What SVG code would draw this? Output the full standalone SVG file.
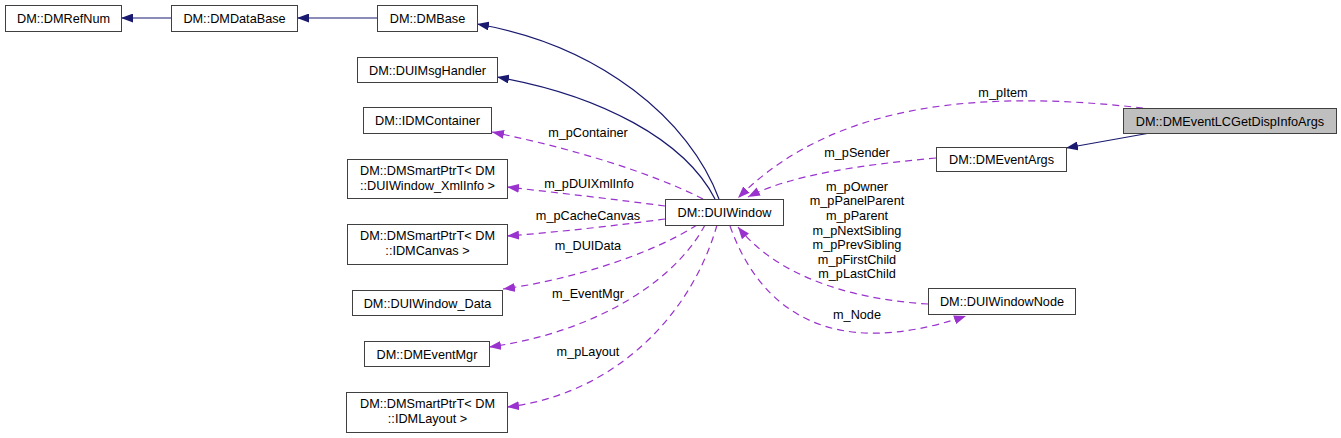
<svg xmlns="http://www.w3.org/2000/svg" width="1341" height="438" viewBox="0 0 1341 438">
<style>
.n rect{fill:#ffffff;stroke:#404040;stroke-width:1}
.n.f rect{fill:#bfbfbf}
text{font-family:"Liberation Sans",Arial,sans-serif;font-size:12.7px;fill:#000}
.t{text-anchor:middle}
.inh{fill:none;stroke:#191970;stroke-width:1.2;marker-end:url(#an)}
.agg{fill:none;stroke:#9a32cd;stroke-width:1.2;stroke-dasharray:7,5;marker-end:url(#ap)}
</style>
<defs>
<marker id="an" markerUnits="userSpaceOnUse" markerWidth="12" markerHeight="9" refX="12" refY="4.5" orient="auto"><path d="M0,0 L12,4.5 L0,9 z" fill="#191970"/></marker>
<marker id="ap" markerUnits="userSpaceOnUse" markerWidth="12" markerHeight="9" refX="12" refY="4.5" orient="auto"><path d="M0,0 L12,4.5 L0,9 z" fill="#9a32cd"/></marker>
</defs>
<rect width="1341" height="438" fill="#ffffff"/>
<g id="connectors">
<path class="inh" d="M171,18 L121,18"/>
<path class="inh" d="M377,18 L297,18"/>
<path class="inh" d="M719,199 C690,120 600,45 477,24"/>
<path class="inh" d="M715,199 C685,140 600,95 497,77"/>
<path class="inh" d="M1150,133 L1066,148"/>
<path class="agg" d="M703,199 C650,172 570,148 492,132"/>
<path class="agg" d="M665,206 C620,200 560,193 507,187"/>
<path class="agg" d="M665,219 C620,225 560,232 507,236"/>
<path class="agg" d="M697,225 C650,255 570,280 503,289"/>
<path class="agg" d="M705,225 C670,290 580,335 489,347"/>
<path class="agg" d="M717,225 C690,320 610,395 507,407"/>
<path class="agg" d="M1143,108 C1000,92 840,95 738,198"/>
<path class="agg" d="M936,158 C860,165 790,175 748,197"/>
<path class="agg" d="M928,304 C860,300 780,280 738,227"/>
<path class="agg" d="M730,226 C760,310 830,362 966,316"/>
<text class="t" x="1003" y="97">m_pItem</text>
<text class="t" x="857" y="157">m_pSender</text>
<text class="t" x="588" y="137">m_pContainer</text>
<text class="t" x="589" y="188">m_pDUIXmlInfo</text>
<text class="t" x="588" y="220">m_pCacheCanvas</text>
<text class="t" x="588" y="250">m_DUIData</text>
<text class="t" x="588" y="298">m_EventMgr</text>
<text class="t" x="588" y="356">m_pLayout</text>
<text class="t" x="857" y="191">m_pOwner</text>
<text class="t" x="857" y="205">m_pPanelParent</text>
<text class="t" x="857" y="220">m_pParent</text>
<text class="t" x="857" y="235">m_pNextSibling</text>
<text class="t" x="857" y="249">m_pPrevSibling</text>
<text class="t" x="857" y="264">m_pFirstChild</text>
<text class="t" x="857" y="278">m_pLastChild</text>
<text class="t" x="857" y="319">m_Node</text>
</g>
<g id="DMRefNum" class="n"><rect x="5.5" y="5.5" width="116" height="26"/><text class="t" x="63.5" y="23">DM::DMRefNum</text></g>
<g id="DMDataBase" class="n"><rect x="171.5" y="5.5" width="126" height="26"/><text class="t" x="234.5" y="23">DM::DMDataBase</text></g>
<g id="DMBase" class="n"><rect x="377.5" y="5.5" width="100" height="26"/><text class="t" x="427.5" y="23">DM::DMBase</text></g>
<g id="DUIMsgHandler" class="n"><rect x="357.5" y="57.5" width="140" height="25"/><text class="t" x="427.5" y="74.5">DM::DUIMsgHandler</text></g>
<g id="IDMContainer" class="n"><rect x="363.5" y="107.5" width="128" height="26"/><text class="t" x="427.5" y="125">DM::IDMContainer</text></g>
<g id="SmartPtrXmlInfo" class="n"><rect x="347.5" y="159.5" width="160" height="39"/><text class="t" x="427.5" y="174.5">DM::DMSmartPtrT&lt; DM</text><text class="t" x="427.5" y="189.5">::DUIWindow_XmlInfo &gt;</text></g>
<g id="SmartPtrCanvas" class="n"><rect x="347.5" y="224.5" width="160" height="40"/><text class="t" x="427.5" y="239.5">DM::DMSmartPtrT&lt; DM</text><text class="t" x="427.5" y="254.5">::IDMCanvas &gt;</text></g>
<g id="DUIWindow_Data" class="n"><rect x="352.5" y="290.5" width="150" height="25"/><text class="t" x="427.5" y="307.5">DM::DUIWindow_Data</text></g>
<g id="DMEventMgr" class="n"><rect x="364.5" y="341.5" width="125" height="25"/><text class="t" x="427" y="358.5">DM::DMEventMgr</text></g>
<g id="SmartPtrLayout" class="n"><rect x="346.5" y="392.5" width="161" height="40"/><text class="t" x="427.5" y="407.5">DM::DMSmartPtrT&lt; DM</text><text class="t" x="427.5" y="422.5">::IDMLayout &gt;</text></g>
<g id="DUIWindow" class="n"><rect x="665.5" y="199.5" width="118" height="26"/><text class="t" x="724.5" y="217">DM::DUIWindow</text></g>
<g id="DMEventArgs" class="n"><rect x="936.5" y="147.5" width="130" height="24"/><text class="t" x="1001.5" y="164">DM::DMEventArgs</text></g>
<g id="DMEventLCGetDispInfoArgs" class="n f"><rect x="1123.5" y="108.5" width="213" height="25"/><text class="t" x="1230" y="125.5">DM::DMEventLCGetDispInfoArgs</text></g>
<g id="DUIWindowNode" class="n"><rect x="928.5" y="288.5" width="147" height="26"/><text class="t" x="1002" y="306">DM::DUIWindowNode</text></g>
</svg>
